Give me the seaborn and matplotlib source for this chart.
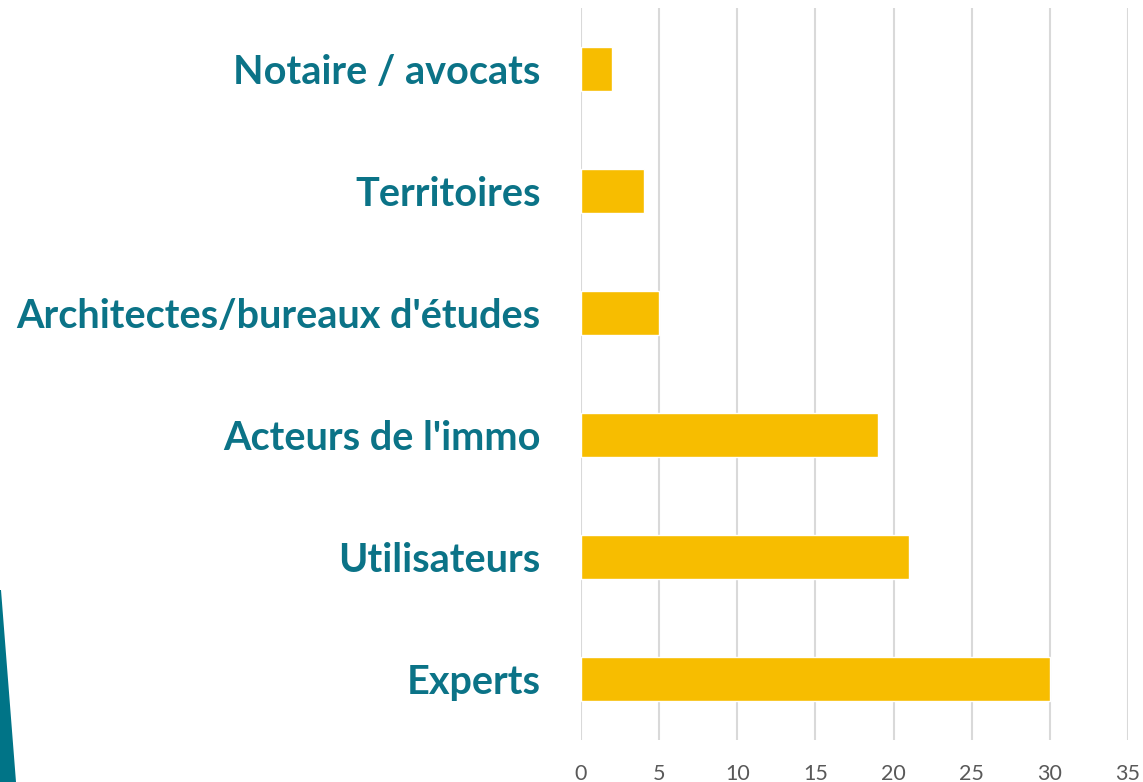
import matplotlib
matplotlib.use("Agg")
import matplotlib.pyplot as plt
import matplotlib.patches as mpatches
import seaborn as sns
import pandas as pd

categories = ["Notaire / avocats", "Territoires", "Architectes/bureaux d'études",
              "Acteurs de l'immo", "Utilisateurs", "Experts"]
values = [2, 4, 5, 19, 21, 30]
x_ticks = [0, 5, 10, 15, 20, 25, 30, 35]

sns.set_style("white")
plt.rcParams["font.family"] = ["Lato", "DejaVu Sans"]

df = pd.DataFrame({"cat": categories, "val": values})

fig = plt.figure(figsize=(11.43, 7.82), dpi=100)
ax = fig.add_axes([0.5083, 0.0537, 0.4786, 0.936])

sns.barplot(data=df, y="cat", x="val", orient="h", color="#F7BD00",
            saturation=1, width=0.36, ax=ax, zorder=3)

ax.set_xlim(0, 35)
ax.set_ylim(5.5, -0.5)
ax.set_xticks(x_ticks)
ax.set_xticklabels([str(t) for t in x_ticks], color="#595959", fontsize=15.5)
ax.set_yticks(range(len(categories)))
ax.set_yticklabels(categories, color="#0B7387", fontsize=28.5, fontweight="bold")
ax.tick_params(axis="y", length=0, pad=29)
ax.tick_params(axis="x", length=0, pad=17)
ax.set_xlabel("")
ax.set_ylabel("")
ax.grid(axis="x", color="#D9D9D9", linewidth=1.5, zorder=0)
for s in ax.spines.values():
    s.set_visible(False)

# decorative teal wedge in the lower-left corner (figure fraction coords)
wedge = mpatches.Polygon([(0, 1 - 590 / 782), (1 / 1143, 1 - 590 / 782),
                          (16 / 1143, 0), (0, 0)], closed=True,
                         facecolor="#007487", edgecolor="none",
                         transform=fig.transFigure)
fig.patches.append(wedge)

fig.savefig("out.png", dpi=100)
